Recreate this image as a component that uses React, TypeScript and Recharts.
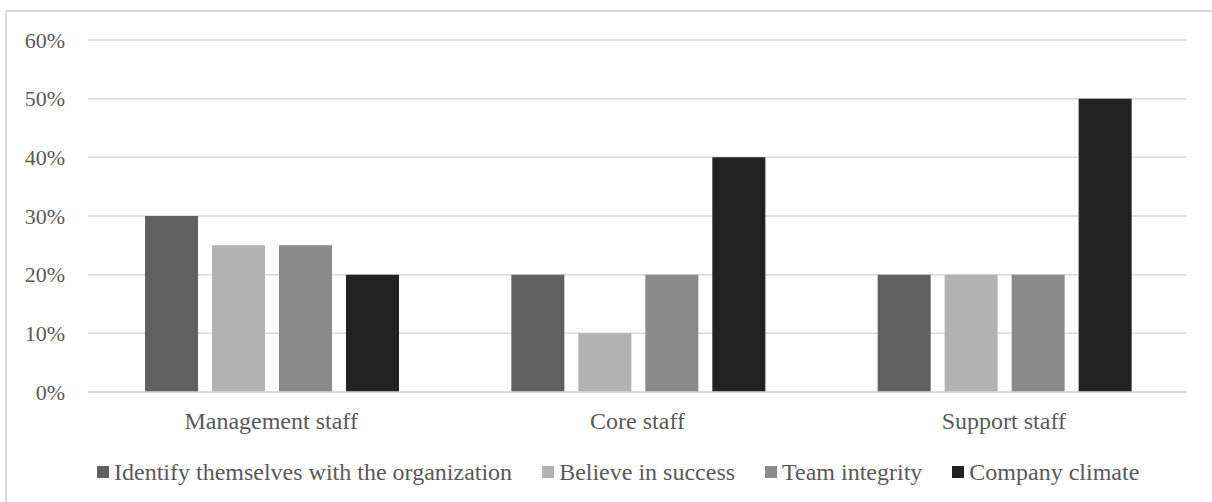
import React from "react";
import { BarChart, Bar, CartesianGrid, XAxis, YAxis, Legend } from "recharts";

const categories = ["Management staff", "Core staff", "Support staff"];
const identifyValues = [30, 20, 20];
const believeValues = [25, 10, 20];
const integrityValues = [25, 20, 20];
const climateValues = [20, 40, 50];
const yTicks = [0, 10, 20, 30, 40, 50, 60];

const series = [
  { key: "identify", name: "Identify themselves with the organization", color: "#606060" },
  { key: "believe", name: "Believe in success", color: "#b2b2b2" },
  { key: "integrity", name: "Team integrity", color: "#8a8a8a" },
  { key: "climate", name: "Company climate", color: "#222222" },
];

const data = categories.map((name, i) => ({
  name,
  identify: identifyValues[i],
  believe: believeValues[i],
  integrity: integrityValues[i],
  climate: climateValues[i],
}));

const font = "'Liberation Serif', 'Times New Roman', serif";

function LegendRow() {
  return (
    <div
      style={{
        display: "flex",
        gap: 30,
        fontFamily: font,
        fontSize: 24,
        lineHeight: "28px",
        color: "#595959",
        whiteSpace: "nowrap",
      }}
    >
      {series.map((s) => (
        <div key={s.key} style={{ display: "flex", alignItems: "center" }}>
          <span style={{ width: 12, height: 12, background: s.color, marginRight: 5, display: "inline-block" }} />
          <span>{s.name}</span>
        </div>
      ))}
    </div>
  );
}

export default function App() {
  return (
    <div style={{ position: "absolute", left: 0, top: 0, width: 1212, height: 502, background: "#fff" }}>
      <div
        style={{
          position: "absolute",
          left: 5,
          top: 10,
          width: 1215,
          height: 500,
          border: "2px solid #d9d9d9",
        }}
      />
      <BarChart
        width={1212}
        height={502}
        data={data}
        margin={{ top: 40, right: 25, left: 0, bottom: 0 }}
        barCategoryGap={57}
        barGap={14}
        style={{ position: "absolute", left: 0, top: 0 }}
      >
        <CartesianGrid vertical={false} stroke="#d9d9d9" strokeWidth={1.5} />
        <XAxis
          dataKey="name"
          height={82}
          axisLine={{ stroke: "#d9d9d9", strokeWidth: 1.5 }}
          tickLine={false}
          tickMargin={14}
          tick={{ fill: "#595959", fontSize: 24, fontFamily: font }}
        />
        <YAxis
          width={88}
          domain={[0, 60]}
          ticks={yTicks}
          axisLine={false}
          tickLine={false}
          tickMargin={17}
          tickFormatter={(v) => `${v}%`}
          tick={{ fill: "#595959", fontSize: 22, fontFamily: font }}
        />
        <Legend
          content={<LegendRow />}
          wrapperStyle={{ left: 97, top: 458, width: "auto", height: 28 }}
        />
        {series.map((s) => (
          <Bar key={s.key} dataKey={s.key} name={s.name} fill={s.color} isAnimationActive={false} />
        ))}
      </BarChart>
    </div>
  );
}
